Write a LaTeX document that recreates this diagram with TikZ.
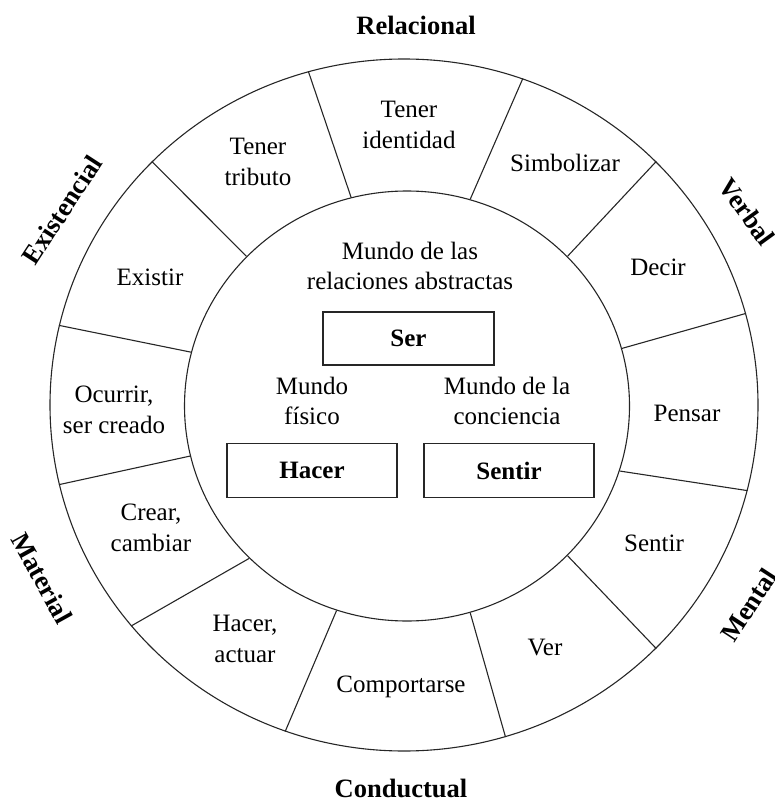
\documentclass[tikz,border=0pt]{standalone}
\usepackage{fontspec}
\setmainfont{Liberation Serif}
\usetikzlibrary{shapes.geometric}

\begin{document}
\begin{tikzpicture}
	[x=1pt,y=-1pt,line width=1.1pt,draw=black!85,
		ring/.style={ellipse,draw,inner sep=0pt},
		verb text/.style={font=\fontsize{25}{30.5}\selectfont,align=center},
		kind text/.style={font=\fontsize{26.5}{30}\selectfont\bfseries},
		world box/.style={rectangle,draw,minimum width=170pt,minimum height=54pt,font=\fontsize{25}{30}\selectfont\bfseries}]

	\useasboundingbox (0,0) rectangle (774,799);

	% the two rings
	\node[ring, minimum width=708pt, minimum height=692pt] (outer) at (404,405) {};
	\node[ring, minimum width=445pt, minimum height=430pt] (inner) at (407,406) {};

	% spokes between the rings
	\foreach \a/\b in {105/106, 137/136, 166/167, 193/193, 224/219, 251/250, 287/287, 317/316, 343/346, 15/15, 43/44, 73/70}
		\draw (inner.\a) -- (outer.\b);

	% process kinds
	\node[kind text]                (relacional)  at (416,25)  {Relacional};
	\node[kind text, rotate=57]     (existencial) at (62,210)  {Existencial};
	\node[kind text, rotate=-54]    (verbal)      at (747,212) {Verbal};
	\node[kind text, rotate=-61]    (material)    at (42,578)  {Material};
	\node[kind text, rotate=57]     (mental)      at (749,605) {Mental};
	\node[kind text]                (conductual)  at (401,788) {Conductual};

	% verbs in the ring
	\node[verb text] (identidad)   at (409,125) {Tener\\identidad};
	\node[verb text] (tributo)     at (258,162) {Tener\\tributo};
	\node[verb text] (existir)     at (150,277) {Existir};
	\node[verb text] (ocurrir)     at (114,410) {Ocurrir,\\ser creado};
	\node[verb text] (crear)       at (151,528) {Crear,\\cambiar};
	\node[verb text] (actuar)      at (245,639) {Hacer,\\actuar};
	\node[verb text] (comportarse) at (401,687) {Comportarse};
	\node[verb text] (ver)         at (545,647) {Ver};
	\node[verb text] (sentirverb)  at (654,543) {Sentir};
	\node[verb text] (pensar)      at (687,413) {Pensar};
	\node[verb text] (decir)       at (658,267) {Decir};
	\node[verb text] (simbolizar)  at (565,163) {Simbolizar};

	% the three worlds
	\node[verb text] (abstracto)  at (410,266) {Mundo de las\\relaciones abstractas};
	\node[verb text] (fisico)     at (312,401) {Mundo\\físico};
	\node[verb text] (conciencia) at (507,401) {Mundo de la\\conciencia};

	\node[world box, minimum width=171pt, minimum height=53pt] (ser) at (408.5,338.5) {Ser};
	\node[world box] (hacer)  at (312,470.5) {Hacer};
	\node[world box] (sentir) at (509,470.5) {Sentir};

\end{tikzpicture}
\end{document}
